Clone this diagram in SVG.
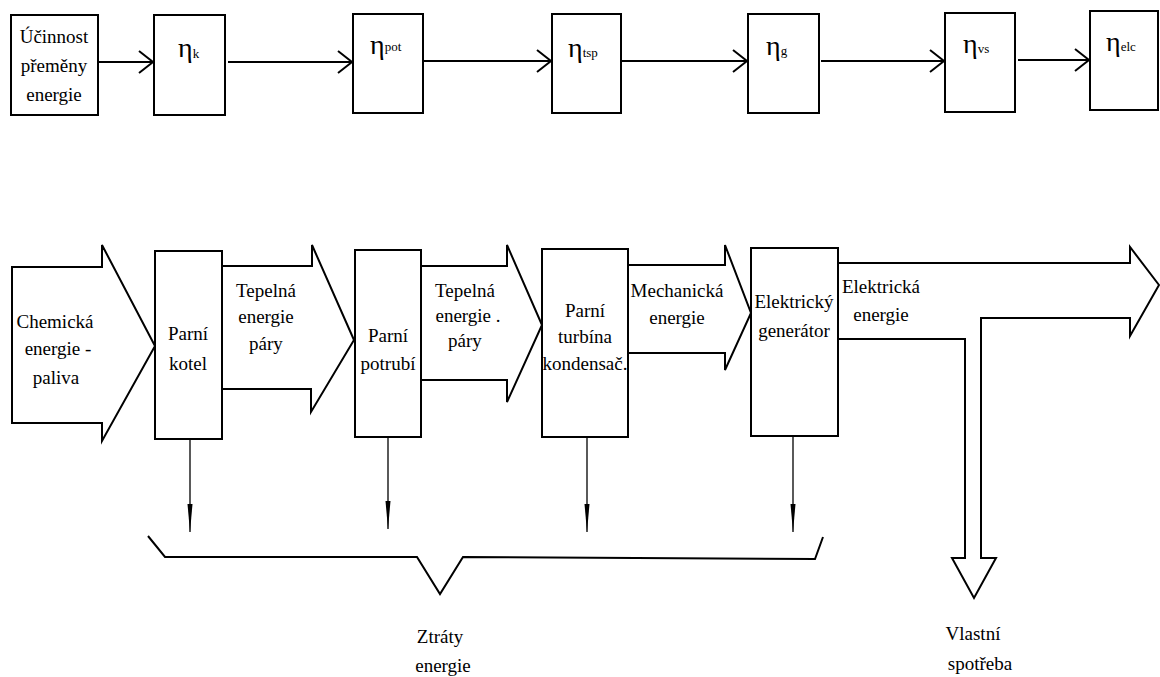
<svg xmlns="http://www.w3.org/2000/svg" width="1160" height="677" viewBox="0 0 1160 677">
<style>
.box{fill:#fff;stroke:#000;stroke-width:2}
.flow{fill:#fff;stroke:#000;stroke-width:2;stroke-linejoin:miter}
.line{fill:none;stroke:#000;stroke-width:2}
.loss{fill:none;stroke:#000;stroke-width:1.3}
text{font-family:"Liberation Serif","Times New Roman","DejaVu Serif",serif;font-size:19px;fill:#000;text-anchor:middle}
.eta{font-size:28px;text-anchor:start}
.sub{font-size:13px}
</style>
<defs>
<marker id="chev" markerUnits="userSpaceOnUse" viewBox="0 0 16 24" refX="15" refY="12" markerWidth="16" markerHeight="24" orient="auto">
<path d="M1,1 L15,12 L1,23" fill="none" stroke="#000" stroke-width="2"/>
</marker>
<marker id="thin" markerUnits="userSpaceOnUse" viewBox="0 0 28 6" refX="28" refY="3" markerWidth="28" markerHeight="6" orient="auto">
<path d="M0,0.5 L28,3 L0,5.5 z" fill="#000"/>
</marker>
</defs>

<g id="connectors">
<line class="line" x1="98" y1="62" x2="153" y2="62" marker-end="url(#chev)"/>
<line class="line" x1="228" y1="62" x2="352" y2="62" marker-end="url(#chev)"/>
<line class="line" x1="423" y1="61" x2="551" y2="61" marker-end="url(#chev)"/>
<line class="line" x1="621" y1="61" x2="747" y2="61" marker-end="url(#chev)"/>
<line class="line" x1="821" y1="61" x2="944" y2="61" marker-end="url(#chev)"/>
<line class="line" x1="1018" y1="60" x2="1089" y2="60" marker-end="url(#chev)"/>

<polygon class="flow" points="12,267 102,267 102,245 155,346 102,441 102,423 12,423"/>
<polygon class="flow" points="222,266 312,266 312,245 354,340 311,412 311,389 222,389"/>
<polygon class="flow" points="421,266 507,266 507,245 542,325 507,402 507,380 421,380"/>
<polygon class="flow" points="628,265 725,265 725,245 751,313 725,370 725,353 628,353"/>
<polygon class="flow" points="838,263 1130,263 1130,247 1159,285 1130,336 1130,318 981,318 981,558 996,558 974,598 952,558 965,558 965,339 838,339"/>

<line class="loss" x1="190" y1="439" x2="190" y2="532" marker-end="url(#thin)"/>
<line class="loss" x1="388" y1="438" x2="388" y2="529" marker-end="url(#thin)"/>
<line class="loss" x1="587" y1="438" x2="587" y2="532" marker-end="url(#thin)"/>
<line class="loss" x1="793" y1="437" x2="793" y2="532" marker-end="url(#thin)"/>

<polyline class="line" points="148,536 165,557 417,557 440,594 463,557 815,559 823,537"/>

<text x="55" y="328">Chemická</text>
<text x="58" y="355">energie -</text>
<text x="56" y="384">paliva</text>
<text x="266" y="297">Tepelná</text>
<text x="266" y="323">energie</text>
<text x="266" y="350">páry</text>
<text x="465" y="297">Tepelná</text>
<text x="468" y="322">energie .</text>
<text x="465" y="347">páry</text>
<text x="677" y="297">Mechanická</text>
<text x="677" y="324">energie</text>
<text x="881" y="293">Elektrická</text>
<text x="881" y="321">energie</text>
<text x="440" y="643">Ztráty</text>
<text x="443" y="672">energie</text>
<text x="973" y="640">Vlastní</text>
<text x="980" y="670">spotřeba</text>
</g>

<g id="n-ucinnost">
<rect class="box" x="11" y="15" width="87" height="100"/>
<text x="54" y="43">Účinnost</text>
<text x="54" y="72">přeměny</text>
<text x="54" y="101">energie</text>
</g>
<g id="n-eta-k">
<rect class="box" x="154" y="15" width="71" height="100"/>
<text class="eta" x="178" y="57">η<tspan class="sub" dy="1">k</tspan></text>
</g>
<g id="n-eta-pot">
<rect class="box" x="353" y="14" width="70" height="99"/>
<text class="eta" x="370" y="54">η<tspan class="sub" dy="-3">pot</tspan></text>
</g>
<g id="n-eta-tsp">
<rect class="box" x="552" y="14" width="69" height="99"/>
<text class="eta" x="568" y="57">η<tspan class="sub" dy="0">tsp</tspan></text>
</g>
<g id="n-eta-g">
<rect class="box" x="748" y="14" width="71" height="99"/>
<text class="eta" x="766" y="55">η<tspan class="sub" dy="0">g</tspan></text>
</g>
<g id="n-eta-vs">
<rect class="box" x="945" y="13" width="70" height="99"/>
<text class="eta" x="963" y="53">η<tspan class="sub" dy="0">vs</tspan></text>
</g>
<g id="n-eta-elc">
<rect class="box" x="1090" y="11" width="68" height="99"/>
<text class="eta" x="1106" y="51">η<tspan class="sub" dy="0">elc</tspan></text>
</g>

<g id="n-kotel">
<rect class="box" x="155" y="251" width="67" height="188"/>
<text x="188" y="340">Parní</text>
<text x="188" y="370">kotel</text>
</g>
<g id="n-potrubi">
<rect class="box" x="355" y="250" width="66" height="187"/>
<text x="388" y="342">Parní</text>
<text x="388" y="370">potrubí</text>
</g>
<g id="n-turbina">
<rect class="box" x="542" y="249" width="86" height="188"/>
<text x="585" y="317">Parní</text>
<text x="585" y="343">turbína</text>
<text x="585" y="370">kondensač.</text>
</g>
<g id="n-generator">
<rect class="box" x="751" y="248" width="87" height="188"/>
<text x="794" y="308">Elektrický</text>
<text x="794" y="337">generátor</text>
</g>
</svg>
